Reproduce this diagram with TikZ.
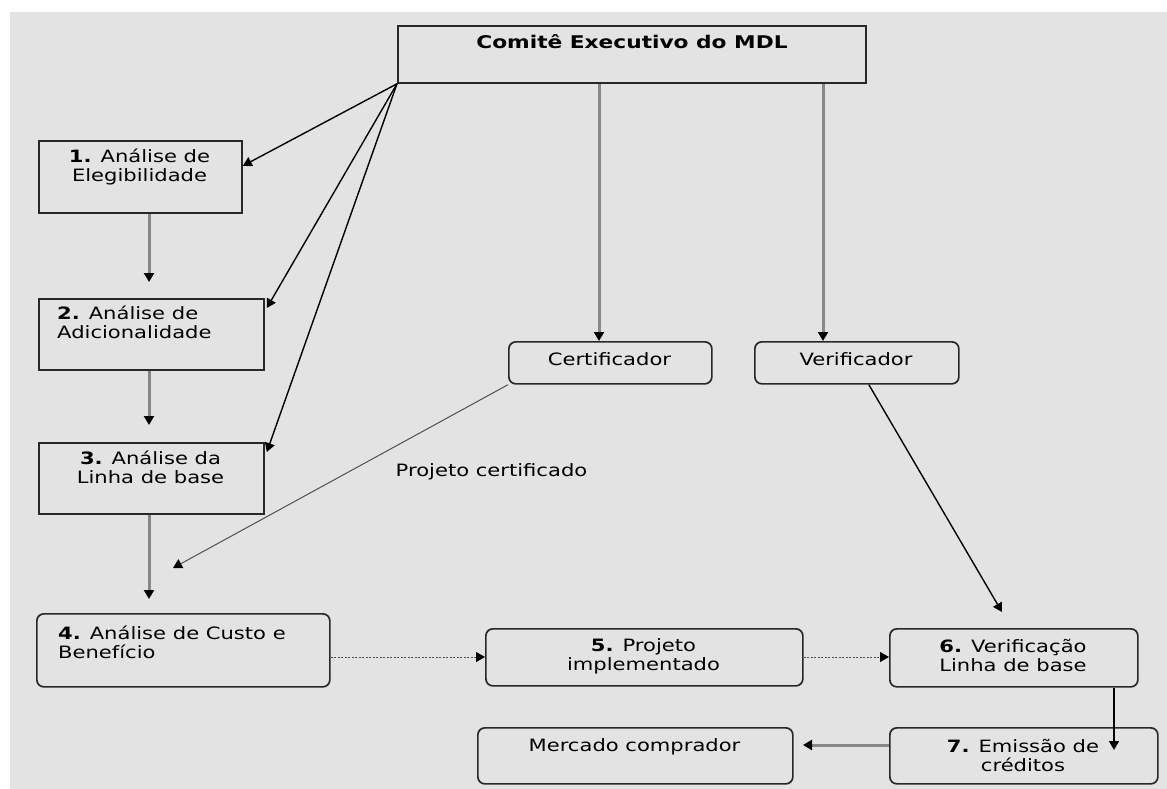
\documentclass[tikz,border=0pt]{standalone}
\usepackage{fontspec}
\setmainfont{DejaVu Sans}[FakeStretch=1.24]
\usetikzlibrary{arrows.meta,calc}
\definecolor{bg}{RGB}{227,227,227}
\definecolor{edge}{RGB}{40,40,40}
\definecolor{conn}{RGB}{135,135,135}
\definecolor{dotc}{RGB}{80,80,80}
\begin{document}
\begin{tikzpicture}[x=1pt,y=-1pt,
  sqbox/.style={draw=edge,line width=1.8pt,inner sep=0pt,anchor=north west},
  rbox/.style={draw=edge,line width=1.7pt,inner sep=0pt,anchor=north west,rounded corners=7pt},
  txt/.style={font=\fontsize{17}{19}\selectfont,inner sep=0pt,align=center},
  ltxt/.style={font=\fontsize{17}{19}\selectfont,inner sep=0pt,align=left,anchor=west},
  blk/.style={-{Triangle[width=10pt,length=9pt,color=black]}},
  vconn/.style={draw=conn,line width=3pt,blk},
  thinarr/.style={draw=black,line width=1.4pt,blk},
  certarr/.style={draw=dotc,line width=1pt,blk},
  dotarr/.style={draw=dotc,line width=1pt,dash pattern=on 2pt off 1.5pt,blk}]
\useasboundingbox (0,0) rectangle (1167,789);
\fill[white] (0,0) rectangle (1167,789);
\fill[bg] (10,12) rectangle (1167,789);

% boxes
\node[sqbox,minimum width=468pt,minimum height=57pt] (top) at (397,25) {};
\node[sqbox,minimum width=203pt,minimum height=72pt] (b1) at (38,140) {};
\node[sqbox,minimum width=225pt,minimum height=71pt] (b2) at (38,298) {};
\node[sqbox,minimum width=225pt,minimum height=71pt] (b3) at (38,442) {};
\node[rbox,minimum width=293pt,minimum height=73pt] (b4) at (36,613) {};
\node[rbox,minimum width=317pt,minimum height=57pt] (b5) at (485,628) {};
\node[rbox,minimum width=248pt,minimum height=58pt] (b6) at (889,628) {};
\node[rbox,minimum width=268pt,minimum height=56pt] (b7) at (889,727) {};
\node[rbox,minimum width=315pt,minimum height=56pt] (mk) at (477,727) {};
\node[rbox,minimum width=203pt,minimum height=42pt] (cert) at (508,341) {};
\node[rbox,minimum width=204pt,minimum height=42pt] (verif) at (754,341) {};

% texts
\node[txt,font=\fontsize{17.5}{19}\selectfont\bfseries] (ttop) at (632,42) {Comitê Executivo do MDL};
\node[txt] (t1) at (139.5,166.5) {\textbf{1.} Análise de\\Elegibilidade};
\node[ltxt] (t2) at (57,322.5) {\textbf{2.} Análise de\\Adicionalidade};
\node[txt] (t3) at (150.5,467.5) {\textbf{3.} Análise da\\Linha de base};
\node[ltxt] (t4) at (58,642.5) {\textbf{4.} Análise de Custo e\\Benefício};
\node[txt] (t5) at (643.5,656) {\textbf{5.} Projeto\\implementado};
\node[txt] (t6) at (1013,655.5) {\textbf{6.} Verificação\\Linha de base};
\node[txt] (t7) at (1023,755.5) {\textbf{7.} Emissão de\\créditos};
\node[txt] (tmk) at (634.5,747) {Mercado comprador};
\node[txt] (tcert) at (609.5,359) {Certificador};
\node[txt] (tverif) at (856,359) {Verificador};
\node[txt] (lbl) at (491.5,472) {Projeto certificado};

% coordinates
\coordinate (a12) at (149,282);
\coordinate (a23) at (149,425);
\coordinate (a34) at (149,599);
\coordinate (ac) at (599,341);
\coordinate (av) at (823,341);
\coordinate (pc) at (173,568);
\coordinate (vend) at (1002,612);
\coordinate (dl) at (0,657);
\coordinate (e67) at (1114,750);
\coordinate (e7m) at (803,745);

% connectors
\draw[thinarr] (top.south west) -- ([yshift=11pt]b1.east);
\draw[thinarr] (top.south west) -- ([xshift=2pt,yshift=-10pt]b2.north east);
\draw[thinarr] (top.south west) -- ([xshift=2pt,yshift=-10pt]b3.north east);
\draw[vconn] (b1.south -| a12) -- (a12);
\draw[vconn] (b2.south -| a23) -- (a23);
\draw[vconn] (b3.south -| a34) -- (a34);
\draw[vconn] (top.south -| ac) -- (ac);
\draw[vconn] (top.south -| av) -- (av);
\draw[certarr] (cert.south west) -- (pc);
\draw[thinarr] ([xshift=12pt]verif.south) -- (vend);
\draw[dotarr] (b4.east |- dl) -- (b5.west |- dl);
\draw[dotarr] (b5.east |- dl) -- (b6.west |- dl);
\draw[thinarr] (b6.south -| e67) -- (e67);
\draw[vconn] (b7.west |- e7m) -- (e7m);
\end{tikzpicture}
\end{document}
